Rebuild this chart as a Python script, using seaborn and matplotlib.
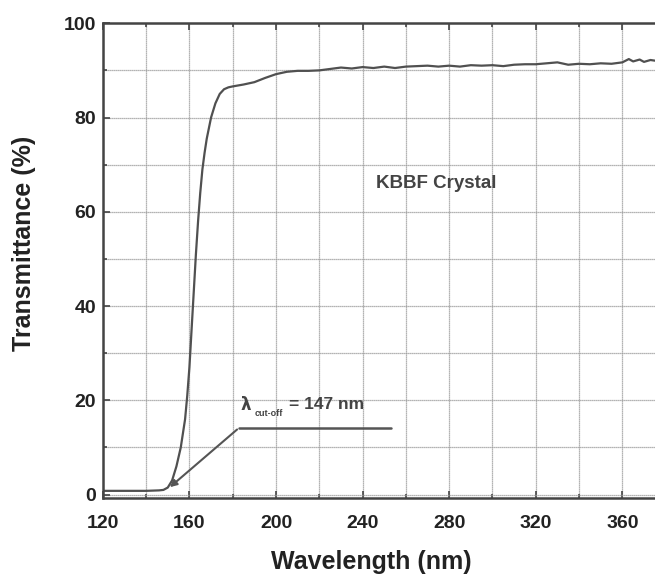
import matplotlib
matplotlib.use('Agg')
import matplotlib.pyplot as plt
from matplotlib.ticker import MultipleLocator
import seaborn as sns
import pandas as pd

# transmission spectrum
wavelength = [120, 130, 140, 146, 148, 150, 152, 154, 156, 158, 159, 160,
              161, 162, 163, 164, 165, 166, 167, 168, 170, 172, 174, 176,
              178, 180, 185, 190, 195, 200, 205, 210, 215, 220, 225, 230,
              235, 240, 245, 250, 255, 260, 265, 270, 275, 280, 285, 290,
              295, 300, 305, 310, 315, 320, 325, 330, 335, 340, 345, 350,
              355, 360, 363, 365, 368, 370, 373, 376]
transmittance = [0.8, 0.8, 0.8, 0.9, 1.0, 1.5, 3.0, 6.0, 10.0, 16.0, 21.0, 27.0,
                 35.0, 43.0, 51.0, 58.0, 64.0, 69.0, 72.5, 75.5, 80.0, 83.0, 85.0, 86.0,
                 86.4, 86.6, 87.0, 87.5, 88.4, 89.2, 89.7, 89.9, 89.9, 90.0, 90.3, 90.6,
                 90.4, 90.7, 90.5, 90.8, 90.5, 90.8, 90.9, 91.0, 90.8, 91.0, 90.8, 91.1,
                 91.0, 91.1, 90.9, 91.2, 91.3, 91.3, 91.5, 91.7, 91.2, 91.4, 91.3, 91.5,
                 91.4, 91.7, 92.4, 91.9, 92.3, 91.8, 92.2, 92.0]

df = pd.DataFrame({'wl': wavelength, 'T': transmittance})

sns.set_style('ticks')
plt.rcParams['font.family'] = ['Liberation Sans', 'DejaVu Sans']

fig = plt.figure(figsize=(6.55, 5.81), dpi=100)
ax = fig.add_axes([0.157, 0.143, 0.846, 0.817])

sns.lineplot(data=df, x='wl', y='T', ax=ax, color='#505050', linewidth=1.6)

ax.set_xlim(120, 376)
ax.set_ylim(-0.7, 100)
ax.xaxis.set_major_locator(MultipleLocator(40))
ax.xaxis.set_minor_locator(MultipleLocator(20))
ax.yaxis.set_major_locator(MultipleLocator(20))
ax.yaxis.set_minor_locator(MultipleLocator(10))
ax.grid(True, which='both', color='#9a9a9a', linewidth=0.9, linestyle=(0, (1, 0.6)))
ax.set_axisbelow(True)
ax.tick_params(which='both', direction='in', top=True, right=False, width=1.2, color='#444444')
ax.tick_params(which='major', length=5, labelsize=14)
ax.tick_params(axis='x', which='major', pad=12)
ax.tick_params(axis='y', which='major', pad=5)
ax.tick_params(which='minor', length=3)
for lab in ax.get_xticklabels() + ax.get_yticklabels():
    lab.set_fontweight('bold')
    lab.set_color('#222222')
for side in ['left', 'bottom', 'top']:
    ax.spines[side].set_linewidth(1.8)
    ax.spines[side].set_color('#444444')
ax.spines['right'].set_visible(False)

ax.set_xlabel('Wavelength (nm)', fontsize=18, fontweight='bold', color='#222222')
ax.set_ylabel('Transmittance (%)', fontsize=18, fontweight='bold', color='#222222')
ax.xaxis.set_label_coords(0.484, -0.11)
ax.yaxis.set_label_coords(-0.12, 0.537)

ax.text(246, 66, 'KBBF Crystal', fontsize=13.5, fontweight='bold', color='#444444', va='center')

# cut-off annotation
ax.annotate('', xy=(150, 1.2), xytext=(183, 14.2),
            arrowprops=dict(arrowstyle='-|>', color='#555555', lw=1.5, mutation_scale=10))
ax.plot([183, 253], [14.2, 14.2], color='#555555', linewidth=1.8)
ax.text(183.5, 19, 'λ', fontsize=12, fontweight='bold', color='#444444', va='center',
        family=['DejaVu Sans'])
ax.text(190, 17.2, 'cut-off', fontsize=6.5, fontweight='bold', color='#444444', va='center')
ax.text(206, 19.2, '= 147 nm', fontsize=12.5, fontweight='bold', color='#444444', va='center')

plt.savefig('out.png', dpi=100)
